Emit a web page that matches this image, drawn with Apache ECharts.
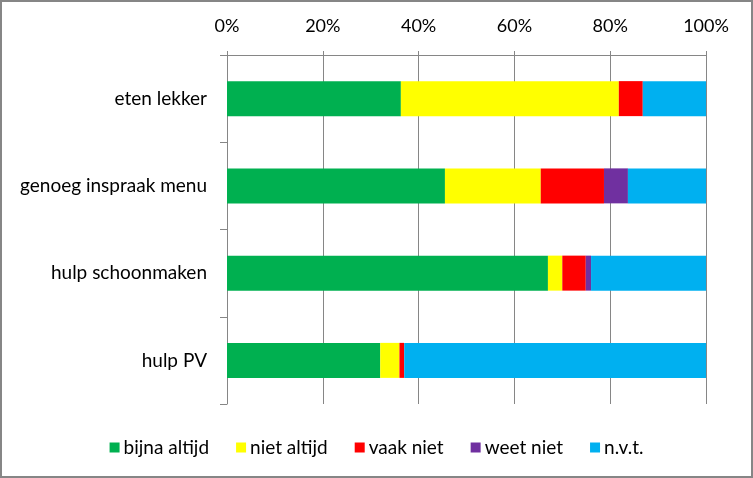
<!DOCTYPE html>
<html><head><meta charset="utf-8">
<script src="https://cdn.jsdelivr.net/npm/echarts@6/dist/echarts.min.js"></script>
<style>html,body{margin:0;padding:0;background:#fff}#c{width:753px;height:478px}</style>
</head><body><div id="c"></div>
<script>
const categories = ['eten lekker', 'genoeg inspraak menu', 'hulp schoonmaken', 'hulp PV'];
const seriesNames = ['bijna altijd', 'niet altijd', 'vaak niet', 'weet niet', 'n.v.t.'];
const bijnaAltijd = [36.3, 45.5, 67.0, 32.0];
const nietAltijd = [45.5, 20.0, 3.0, 4.0];
const vaakNiet = [5.0, 13.2, 4.9, 1.0];
const weetNiet = [0, 5.0, 1.1, 0];
const nvt = [13.2, 16.3, 24.0, 63.0];
const xTicks = [0, 20, 40, 60, 80, 100];
const colors = ['#00B050', '#FFFF00', '#FF0000', '#7030A0', '#00B0F0'];
const values = [bijnaAltijd, nietAltijd, vaakNiet, weetNiet, nvt];

const chart = echarts.init(document.getElementById('c'), null, {renderer: 'canvas'});
const font = 'Lato, sans-serif';
chart.setOption({
  animation: false,
  backgroundColor: '#fff',
  graphic: [{type: 'rect', shape: {x: 1, y: 1, width: 751, height: 476}, style: {fill: 'none', stroke: '#868686', lineWidth: 2}, z: 100}],
  grid: {left: 227, right: 47, top: 55, bottom: 74},
  legend: {
    bottom: 16, left: 'center', itemWidth: 10, itemHeight: 10, itemGap: 27,
    icon: 'rect',
    textStyle: {fontFamily: font, fontSize: 19, color: '#000', padding: [0,0,0,-1]},
    data: seriesNames
  },
  xAxis: {
    type: 'value', position: 'top', min: xTicks[0], max: xTicks[xTicks.length - 1], interval: 20,
    axisLine: {show: true, lineStyle: {color: '#868686'}},
    axisTick: {show: true, length: 4, lineStyle: {color: '#868686'}},
    splitLine: {show: true, lineStyle: {color: '#868686', width: 1}},
    axisLabel: {formatter: '{value}%', fontFamily: font, fontSize: 18, color: '#000', margin: 20}
  },
  yAxis: {
    type: 'category', inverse: true, data: categories,
    axisLine: {show: true, lineStyle: {color: '#868686'}},
    axisTick: {show: true, length: 7, lineStyle: {color: '#868686'}},
    axisLabel: {fontFamily: font, fontSize: 19, color: '#000', margin: 20}
  },
  series: seriesNames.map((n, i) => ({
    name: n, type: 'bar', stack: 'total', barWidth: 35,
    itemStyle: {color: colors[i]},
    data: values[i]
  }))
});
</script></body></html>
